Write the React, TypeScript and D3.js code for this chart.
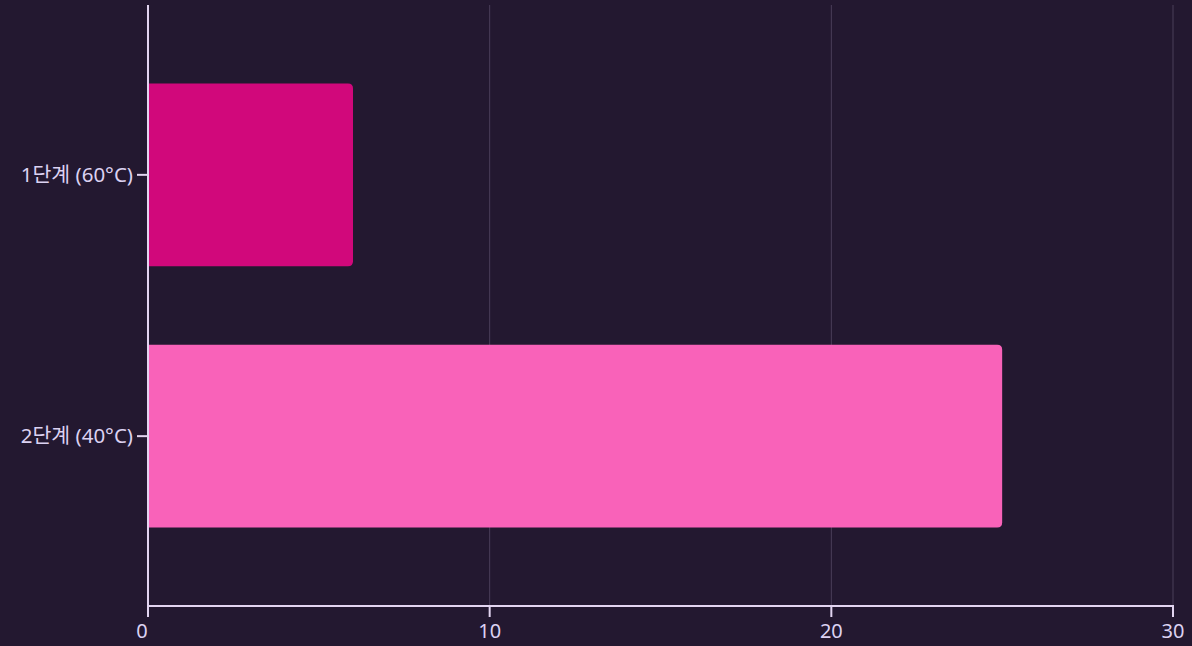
import React from "react";
import * as d3 from "d3";

const categories = ["1단계 (60°C)", "2단계 (40°C)"];
const values = [6, 25];
const barColors = ["#d1087b", "#f962b9"];
const xTicks = [0, 10, 20, 30];

const W = 1192;
const H = 646;
const margin = { left: 148, right: 19, top: 5, bottom: 40 };

export default function App() {
  const x = d3.scaleLinear().domain([0, 30]).range([margin.left, W - margin.right]);
  const y = d3
    .scaleBand<string>()
    .domain(categories)
    .range([margin.top, H - margin.bottom])
    .paddingInner(0.3)
    .paddingOuter(0.3);
  const y0 = margin.top;
  const y1 = H - margin.bottom;
  const axisColor = "#e2d4f0";
  const textColor = "#dcd2f2";
  const font = "'Noto Sans', 'Noto Sans CJK KR', sans-serif";

  const barPath = (v: number, cat: string) => {
    const x0 = x(0) + 1;
    const xe = x(v);
    const top = y(cat)!;
    const bot = top + y.bandwidth();
    const r = 5;
    return `M${x0},${top}H${xe - r}Q${xe},${top} ${xe},${top + r}V${bot - r}Q${xe},${bot} ${xe - r},${bot}H${x0}Z`;
  };

  return (
    <svg
      width={W}
      height={H}
      style={{ position: "absolute", left: 0, top: 0, background: "#231830", display: "block" }}
    >
      {xTicks.filter((t) => t > 0).map((t) => (
        <line key={"g" + t} x1={x(t)} x2={x(t)} y1={y0} y2={y1} stroke="#4a3e59" strokeWidth={1} />
      ))}
      {categories.map((c, i) => (
        <path key={c} d={barPath(values[i], c)} fill={barColors[i]} />
      ))}
      {/* y axis */}
      <line x1={x(0)} x2={x(0)} y1={y0} y2={y1 + 1} stroke={axisColor} strokeWidth={2} />
      {categories.map((c) => {
        const cy = y(c)! + y.bandwidth() / 2;
        return (
          <g key={"yt" + c}>
            <line x1={x(0) - 11} x2={x(0)} y1={cy} y2={cy} stroke={axisColor} strokeWidth={2} />
            <text x={x(0) - 15} y={cy} dy="0.35em" textAnchor="end" fill={textColor} fontSize={20.5} fontFamily={font}>
              {c}
            </text>
          </g>
        );
      })}
      {/* x axis */}
      <line x1={x(0) - 1} x2={x(30) + 1} y1={y1} y2={y1} stroke={axisColor} strokeWidth={2} />
      {xTicks.map((t) => (
        <g key={"xt" + t}>
          <line x1={x(t)} x2={x(t)} y1={y1} y2={y1 + 11} stroke={axisColor} strokeWidth={2} />
          <text x={x(t) - (t === 0 ? 6 : 0)} y={y1 + 32} textAnchor="middle" fill={textColor} fontSize={20} fontFamily={font}>
            {t}
          </text>
        </g>
      ))}
    </svg>
  );
}
